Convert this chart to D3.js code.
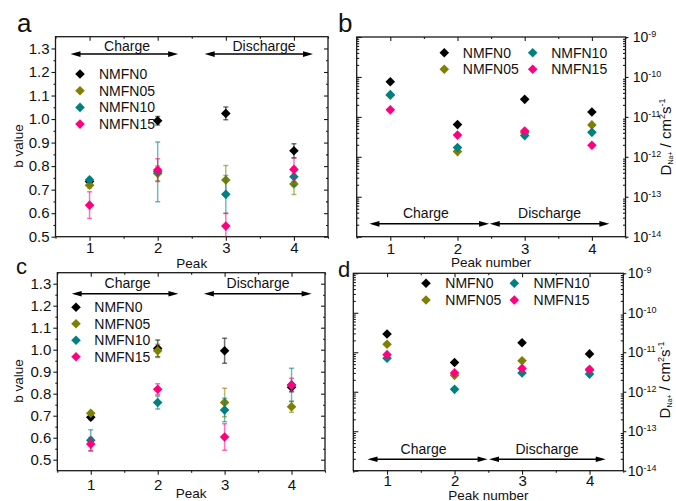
<!DOCTYPE html>
<html>
<head>
<meta charset="utf-8">
<script src="https://cdn.jsdelivr.net/npm/d3@7"></script>
<style>
  body { margin: 0; background: #fff; }
  svg { display: block; }
</style>
</head>
<body>
<div id="chart"></div>
<script>
// ---- data ----
const peaks = [1, 2, 3, 4];
const seriesNames = ["NMFN0", "NMFN05", "NMFN10", "NMFN15"];
const seriesColors = ["#000000", "#808000", "#008080", "#ff0080"];
const stageNames = ["Charge", "Discharge"];

// b values, first set (panel a)
const bValueA0  = [0.735, 0.993, 1.024, 0.865];
const bValueA05 = [0.719, 0.769, 0.741, 0.724];
const bValueA10 = [0.742, 0.776, 0.680, 0.755];
const bValueA15 = [0.634, 0.783, 0.545, 0.786];
const bErrorA0  = [0.008, 0.018, 0.027, 0.030];
const bErrorA05 = [0.012, 0.032, 0.062, 0.045];
const bErrorA10 = [0.010, 0.127, 0.080, 0.040];
const bErrorA15 = [0.057, 0.048, 0.054, 0.050];

// b values, second set (panel c)
const bValueC0  = [0.693, 1.006, 0.995, 0.829];
const bValueC05 = [0.711, 0.995, 0.760, 0.741];
const bValueC10 = [0.588, 0.760, 0.726, 0.840];
const bValueC15 = [0.571, 0.820, 0.603, 0.840];
const bErrorC0  = [0.010, 0.038, 0.057, 0.020];
const bErrorC05 = [0.008, 0.030, 0.065, 0.025];
const bErrorC10 = [0.048, 0.030, 0.053, 0.076];
const bErrorC15 = [0.030, 0.025, 0.060, 0.030];

// diffusion coefficients, cm^2 s^-1 (panel b)
const diffB0  = [7.6e-11, 6.4e-12, 2.75e-11, 1.32e-11];
const diffB05 = [3.5e-11, 1.35e-12, 4.0e-12, 6.3e-12];
const diffB10 = [3.6e-11, 1.7e-12, 3.4e-12, 4.1e-12];
const diffB15 = [1.5e-11, 3.5e-12, 4.4e-12, 1.95e-12];

// diffusion coefficients, cm^2 s^-1 (panel d)
const diffD0  = [2.9e-11, 5.5e-12, 1.74e-11, 9.1e-12];
const diffD05 = [1.6e-11, 2.6e-12, 6.1e-12, 3.5e-12];
const diffD10 = [7.1e-12, 1.15e-12, 3.0e-12, 2.8e-12];
const diffD15 = [8.7e-12, 3.0e-12, 3.9e-12, 3.7e-12];

// axis ticks
const bTicks = [0.5, 0.6, 0.7, 0.8, 0.9, 1.0, 1.1, 1.2, 1.3];
const bMinorTicks = [0.45, 0.55, 0.65, 0.75, 0.85, 0.95, 1.05, 1.15, 1.25, 1.35];
const decadeTicks = [1e-14, 1e-13, 1e-12, 1e-11, 1e-10, 1e-9];
const peakMinorTicks = [0.5, 1.5, 2.5, 3.5, 4.5];

// charge / discharge spans along the peak axis
const chargeSpanA = [0.72, 2.30], dischargeSpanA = [2.69, 4.28];
const chargeSpanC = [0.715, 2.31], dischargeSpanC = [2.69, 4.30];
const chargeSpanB = [0.69, 2.47], dischargeSpanB = [2.48, 4.26];
const chargeSpanD = [0.71, 2.49], dischargeSpanD = [2.51, 4.24];

// ---- drawing ----
const FONT = '"Liberation Sans", Arial, Helvetica, sans-serif';
const W = 676, H = 501;
const svg = d3.select("#chart").append("svg")
  .attr("width", W).attr("height", H)
  .attr("font-family", FONT);

const logMinorTicks = [];
decadeTicks.slice(0, -1).forEach(d => { for (let k = 2; k <= 9; k++) logMinorTicks.push(k * d); });

function zipSeries(values, errors) {
  return seriesNames.map((name, i) => ({
    name, color: seriesColors[i],
    points: peaks.map((p, j) => ({ peak: p, v: values[i][j], e: errors ? errors[i][j] : 0 }))
  }));
}

function styleAxis(sel, fontSize) {
  sel.select(".domain").remove();
  sel.selectAll(".tick line").attr("stroke", "#1a1a1a").attr("stroke-width", 1.1);
  sel.selectAll(".tick text").attr("fill", "#111").attr("font-size", fontSize).attr("font-family", FONT);
  return sel;
}

const diamond = d3.symbol().type(d3.symbolSquare).size(46);

function drawArrow(g, x, y, span, level) {
  const x0 = x(span[0]), x1 = x(span[1]), yy = y(level);
  const head = 10, half = 2.8;
  g.append("line").attr("x1", x0 + 4).attr("x2", x1 - 4).attr("y1", yy).attr("y2", yy)
    .attr("stroke", "#000").attr("stroke-width", 1.5);
  g.append("path").attr("d", `M${x0},${yy}L${x0 + head},${yy - half}L${x0 + head},${yy + half}Z`).attr("fill", "#000");
  g.append("path").attr("d", `M${x1},${yy}L${x1 - head},${yy - half}L${x1 - head},${yy + half}Z`).attr("fill", "#000");
  return yy;
}

function drawPanel(p) {
  const w = p.right - p.left, h = p.bottom - p.top;
  const g = svg.append("g").attr("transform", `translate(${p.left},${p.top})`);
  const x = d3.scaleLinear().domain([0.5, 4.5]).range([0, w]);
  const y = p.log
    ? d3.scaleLog().domain([1e-14, 1e-9]).range([h, 0])
    : d3.scaleLinear().domain(p.yDomain).range([h, 0]);

  const clipId = "clip-" + p.id;
  g.append("clipPath").attr("id", clipId).append("rect").attr("width", w).attr("height", h);

  // bottom axis (outward) and top mirror (inward)
  styleAxis(g.append("g").attr("transform", `translate(0,${h})`)
    .call(d3.axisBottom(x).tickValues(peaks).tickSize(4).tickPadding(p.xPad).tickFormat(d3.format("d"))), 15);
  styleAxis(g.append("g").attr("transform", `translate(0,${h})`)
    .call(d3.axisBottom(x).tickValues(peakMinorTicks).tickSize(2).tickFormat("")), 15);
  styleAxis(g.append("g").call(d3.axisTop(x).tickValues(peaks).tickSize(-4).tickFormat("")), 15);
  styleAxis(g.append("g").call(d3.axisTop(x).tickValues(peakMinorTicks).tickSize(-2).tickFormat("")), 15);

  if (!p.log) {
    const majors = bTicks.filter(t => t >= p.yDomain[0] - 1e-9);
    const minors = bMinorTicks.filter(t => t > p.yDomain[0] + 1e-9 && t < p.yDomain[1] - 1e-9);
    styleAxis(g.append("g").call(d3.axisLeft(y).tickValues(majors).tickSize(4).tickPadding(2).tickFormat(d3.format(".1f"))), 15);
    styleAxis(g.append("g").call(d3.axisLeft(y).tickValues(minors).tickSize(2).tickFormat("")), 15);
    styleAxis(g.append("g").attr("transform", `translate(${w},0)`).call(d3.axisRight(y).tickValues(majors).tickSize(-4).tickFormat("")), 15);
    styleAxis(g.append("g").attr("transform", `translate(${w},0)`).call(d3.axisRight(y).tickValues(minors).tickSize(-2).tickFormat("")), 15);
  } else {
    styleAxis(g.append("g").call(d3.axisLeft(y).tickValues(decadeTicks).tickSize(-5).tickFormat("")), 14);
    styleAxis(g.append("g").call(d3.axisLeft(y).tickValues(logMinorTicks).tickSize(-2.5).tickFormat("")), 14);
    const r = styleAxis(g.append("g").attr("transform", `translate(${w},0)`)
      .call(d3.axisRight(y).tickValues(decadeTicks).tickSize(3).tickPadding(p.rPad).tickFormat(d => "10")), 14);
    styleAxis(g.append("g").attr("transform", `translate(${w},0)`)
      .call(d3.axisRight(y).tickValues(logMinorTicks).tickSize(-2.5).tickFormat("")), 14);
    r.selectAll(".tick text").each(function (d) {
      d3.select(this).append("tspan").attr("dy", "-0.55em").attr("font-size", 9)
        .text(String(Math.round(Math.log10(d))));
    });
  }

  // frame
  g.append("rect").attr("width", w).attr("height", h).attr("fill", "none")
    .attr("stroke", "#1a1a1a").attr("stroke-width", 1.3);

  // charge / discharge annotations
  p.spans.forEach((span, i) => {
    const yy = drawArrow(g, x, y, span, p.arrowLevel);
    g.append("text").attr("x", x(p.labelAt[i])).attr("y", yy + p.labelDy)
      .attr("text-anchor", "middle").attr("font-size", 14).attr("fill", "#111").text(stageNames[i]);
  });

  // data: error bars then markers, series by series
  const plot = g.append("g").attr("clip-path", `url(#${clipId})`);
  p.series.forEach(s => {
    const sg = plot.append("g");
    if (!p.log) {
      const eb = sg.selectAll(".eb").data(s.points).join("g").attr("class", "eb")
        .attr("stroke", s.color).attr("stroke-opacity", 0.55).attr("stroke-width", 1.5);
      eb.append("line").attr("x1", d => x(d.peak)).attr("x2", d => x(d.peak))
        .attr("y1", d => y(d.v - d.e)).attr("y2", d => y(d.v + d.e));
      eb.append("line").attr("x1", d => x(d.peak) - 2.5).attr("x2", d => x(d.peak) + 2.5)
        .attr("y1", d => y(d.v - d.e)).attr("y2", d => y(d.v - d.e));
      eb.append("line").attr("x1", d => x(d.peak) - 2.5).attr("x2", d => x(d.peak) + 2.5)
        .attr("y1", d => y(d.v + d.e)).attr("y2", d => y(d.v + d.e));
    }
    sg.selectAll(".pt").data(s.points).join("path").attr("class", "pt")
      .attr("d", diamond)
      .attr("transform", d => `translate(${x(d.peak)},${y(d.v)}) rotate(45)`)
      .attr("fill", s.color);
  });

  // legend
  const lg = svg.append("g");
  seriesNames.forEach((name, i) => {
    const col = Math.floor(i / p.legend.rows), row = i % p.legend.rows;
    const mx = p.legend.x[col], my = p.legend.y + row * p.legend.dy;
    lg.append("path").attr("d", diamond)
      .attr("transform", `translate(${mx},${my}) rotate(45)`).attr("fill", seriesColors[i]);
    lg.append("text").attr("x", mx + p.legend.tx).attr("y", my + 5)
      .attr("font-size", 14).attr("fill", "#111").text(name);
  });

  // axis titles
  svg.append("text").attr("x", p.left + x(p.xTitleAt)).attr("y", p.xTitleY)
    .attr("text-anchor", "middle").attr("font-size", 13.5).attr("fill", "#111").text(p.xTitle);
  if (!p.log) {
    svg.append("text").attr("transform", `translate(${p.yTitleX},${p.yTitleY}) rotate(-90)`)
      .attr("text-anchor", "middle").attr("font-size", 13.5).attr("fill", "#111").text("b value");
  } else {
    const t = svg.append("text").attr("transform", `translate(${p.yTitleX},${p.yTitleY}) rotate(-90)`)
      .attr("text-anchor", "middle").attr("font-size", 15).attr("fill", "#111");
    t.append("tspan").text("D");
    t.append("tspan").attr("font-size", 7).attr("dy", 2).text("Na+");
    t.append("tspan").attr("dy", -2).text(" / cm");
    t.append("tspan").attr("font-size", 9).attr("dy", -6).text("2");
    t.append("tspan").attr("dy", 6).text("s");
    t.append("tspan").attr("font-size", 9).attr("dy", -6).text("-1");
  }

  // panel letter
  svg.append("text").attr("x", p.letterX).attr("y", p.letterY)
    .attr("font-size", p.letterSize).attr("fill", "#111").text(p.id);
}

drawPanel({
  id: "a", left: 55.5, top: 36.7, right: 328, bottom: 236.7, yDomain: [0.5, 1.35], log: false,
  series: zipSeries([bValueA0, bValueA05, bValueA10, bValueA15], [bErrorA0, bErrorA05, bErrorA10, bErrorA15]),
  xPad: 1.5, spans: [chargeSpanA, dischargeSpanA], arrowLevel: 1.276, labelAt: [1.55, 3.56], labelDy: -3,
  legend: { x: [80], y: 74, dy: 16.7, rows: 4, tx: 19 },
  xTitle: "Peak", xTitleAt: 2.5, xTitleY: 268, yTitleX: 22.5, yTitleY: 146,
  letterX: 17, letterY: 32, letterSize: 26
});
drawPanel({
  id: "b", left: 356.7, top: 37, right: 625.5, bottom: 236.7, log: true,
  series: zipSeries([diffB0, diffB05, diffB10, diffB15], null),
  xPad: 2.3, rPad: 4.2, spans: [chargeSpanB, dischargeSpanB], arrowLevel: 2.1e-14, labelAt: [1.53, 3.37], labelDy: -6,
  legend: { x: [444.3, 532.7], y: 52.7, dy: 16.6, rows: 2, tx: 18.5 },
  xTitle: "Peak number", xTitleAt: 2.5, xTitleY: 267, yTitleX: 670.5, yTitleY: 137,
  letterX: 338, letterY: 32, letterSize: 26
});
drawPanel({
  id: "c", left: 57.3, top: 272.7, right: 325, bottom: 470.7, yDomain: [0.45, 1.35], log: false,
  series: zipSeries([bValueC0, bValueC05, bValueC10, bValueC15], [bErrorC0, bErrorC05, bErrorC10, bErrorC15]),
  xPad: 5, spans: [chargeSpanC, dischargeSpanC], arrowLevel: 1.2545, labelAt: [1.55, 3.5], labelDy: -5.5,
  legend: { x: [76], y: 307.3, dy: 16.5, rows: 4, tx: 18.3 },
  xTitle: "Peak", xTitleAt: 2.5, xTitleY: 498, yTitleX: 23, yTitleY: 381,
  letterX: 16, letterY: 274, letterSize: 22
});
drawPanel({
  id: "d", left: 353.3, top: 273.3, right: 623.3, bottom: 470.7, log: true,
  series: zipSeries([diffD0, diffD05, diffD10, diffD15], null),
  xPad: 0.5, rPad: 1.5, spans: [chargeSpanD, dischargeSpanD], arrowLevel: 1.95e-14, labelAt: [1.54, 3.37], labelDy: -5.5,
  legend: { x: [426, 514.3], y: 283.3, dy: 16.7, rows: 2, tx: 19.3 },
  xTitle: "Peak number", xTitleAt: 2.5, xTitleY: 499.5, yTitleX: 669.5, yTitleY: 380,
  letterX: 338, letterY: 277, letterSize: 22
});
</script>
</body>
</html>
